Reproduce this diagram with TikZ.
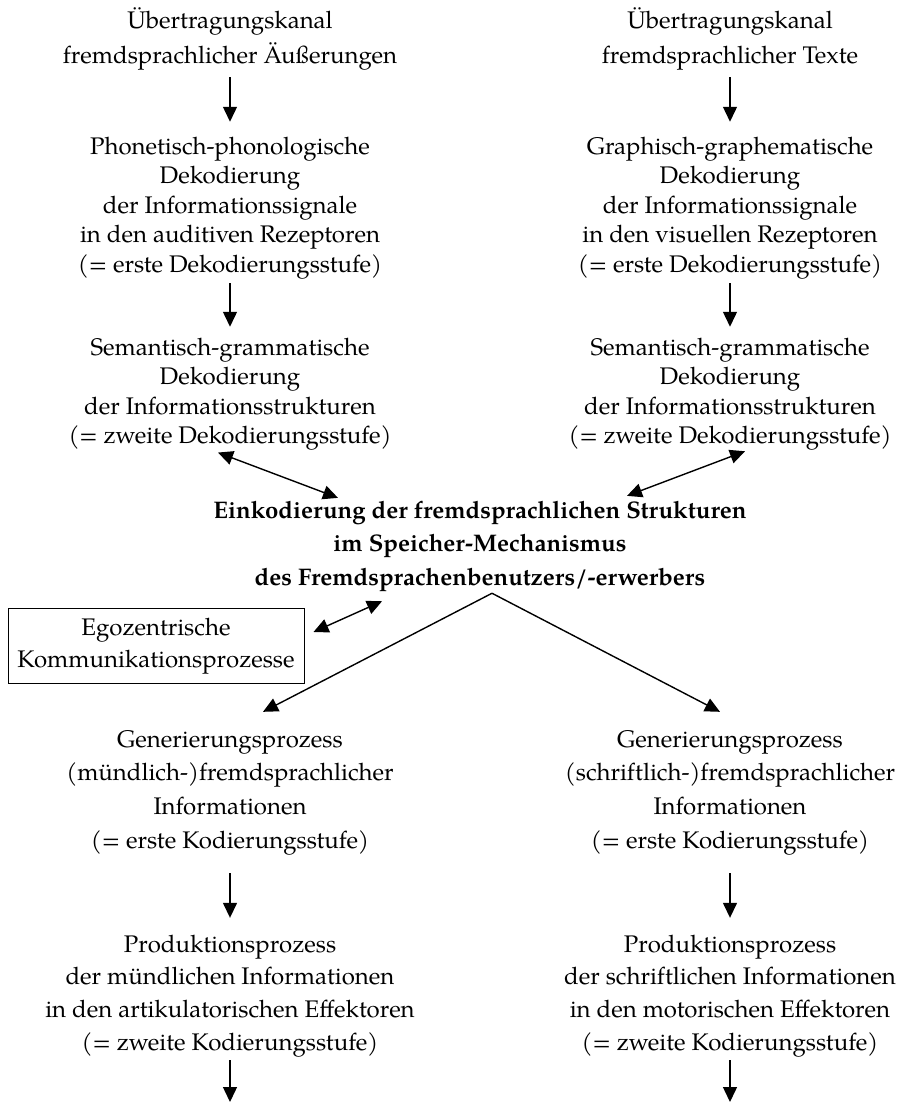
\documentclass[tikz,border=0pt]{standalone}
\usepackage{fontspec}
\setmainfont{TeX Gyre Pagella}
\usetikzlibrary{arrows.meta,calc}
\newcommand{\mlines}[2]{{\fontsize{24}{#1}\selectfont\renewcommand{\arraystretch}{1}\begin{tabular}[t]{@{}c@{}}#2\end{tabular}}}
\begin{document}
\begin{tikzpicture}[x=1pt,y=-1pt,
  arr/.style={line width=1.4pt,-{Triangle[length=15pt,width=14pt]}},
  darr/.style={line width=1.4pt,{Triangle[length=15pt,width=14pt]}-{Triangle[length=15pt,width=14pt]}},
  txt/.style={inner sep=0pt,anchor=base},
  egobox/.style={draw,line width=1pt,inner sep=0pt,minimum width=296pt,minimum height=75pt}]
\useasboundingbox (0,0) rectangle (899,1103);
\node[txt] (AL) at (230,28) {\mlines{35}{Übertragungskanal\\fremdsprachlicher Äußerungen}};
\node[txt] (AR) at (730,28) {\mlines{35}{Übertragungskanal\\fremdsprachlicher Texte}};
\node[txt] (BL) at (230,154) {\mlines{29.5}{Phonetisch-phonologische\\Dekodierung\\der Informationssignale\\in den auditiven Rezeptoren\\(= erste Dekodierungsstufe)}};
\node[txt] (BR) at (730,154) {\mlines{29.5}{Graphisch-graphematische\\Dekodierung\\der Informationssignale\\in den visuellen Rezeptoren\\(= erste Dekodierungsstufe)}};
\node[txt] (CL) at (230,355) {\mlines{29.5}{Semantisch-grammatische\\Dekodierung\\der Informationsstrukturen\\(= zweite Dekodierungsstufe)}};
\node[txt] (CR) at (730,355) {\mlines{29.5}{Semantisch-grammatische\\Dekodierung\\der Informationsstrukturen\\(= zweite Dekodierungsstufe)}};
\node[txt] (ENC) at (480,518) {\bfseries\mlines{33.5}{\bfseries Einkodierung der fremdsprachlichen Strukturen\\\bfseries im Speicher-Mechanismus\\\bfseries des Fremdsprachenbenutzers/-erwerbers}};
\node[egobox] (box) at (156,645.5) {\raisebox{2.9pt}{\mlines{32}{Egozentrische\\Kommunikationsprozesse}}};
\node[txt] (DL) at (230,747) {\mlines{33.7}{Generierungsprozess\\(mündlich-)fremdsprachlicher\\Informationen\\(= erste Kodierungsstufe)}};
\node[txt] (DR) at (730,747) {\mlines{33.7}{Generierungsprozess\\(schriftlich-)fremdsprachlicher\\Informationen\\(= erste Kodierungsstufe)}};
\node[txt] (EL) at (230,952) {\mlines{32.7}{Produktionsprozess\\der mündlichen Informationen\\in den artikulatorischen Effektoren\\(= zweite Kodierungsstufe)}};
\node[txt] (ER) at (730,952) {\mlines{32.7}{Produktionsprozess\\der schriftlichen Informationen\\in den motorischen Effektoren\\(= zweite Kodierungsstufe)}};
\coordinate (endL) at (230,1102);
\coordinate (endR) at (730,1102);
% vertical arrows
\draw[arr] ($(AL.south)+(0,3.5)$) -- ($(BL.north)+(0,-11.4)$);
\draw[arr] ($(AR.south)+(0,3.5)$) -- ($(BR.north)+(0,-11.4)$);
\draw[arr] ($(BL.south)+(0,2.2)$) -- ($(CL.north)+(0,-7.4)$);
\draw[arr] ($(BR.south)+(0,2.2)$) -- ($(CR.north)+(0,-7.4)$);
\draw[arr] ($(DL.south)+(0,14.8)$) -- ($(EL.north)+(0,-11.1)$);
\draw[arr] ($(DR.south)+(0,14.8)$) -- ($(ER.north)+(0,-11.1)$);
\draw[arr] (EL.south) -- (endL);
\draw[arr] (ER.south) -- (endR);
% double arrows
\draw[darr] ($(CL.south)+(-12,0)$) -- ($(ENC.north)+(-142,3.5)$);
\draw[darr] ($(CR.south)+(15,-1.3)$) -- ($(ENC.north)+(147,1.5)$);
\draw[darr] ($(ENC.south)+(-98,6)$) -- ($(box.east)+(9,-13.5)$);
% diverging arrows
\draw[arr] ($(ENC.south)+(12,-2)$) -- ($(DL.north)+(33,-11.4)$);
\draw[arr] ($(ENC.south)+(12,-2)$) -- ($(DR.north)+(-10,-11.4)$);
\end{tikzpicture}
\end{document}
